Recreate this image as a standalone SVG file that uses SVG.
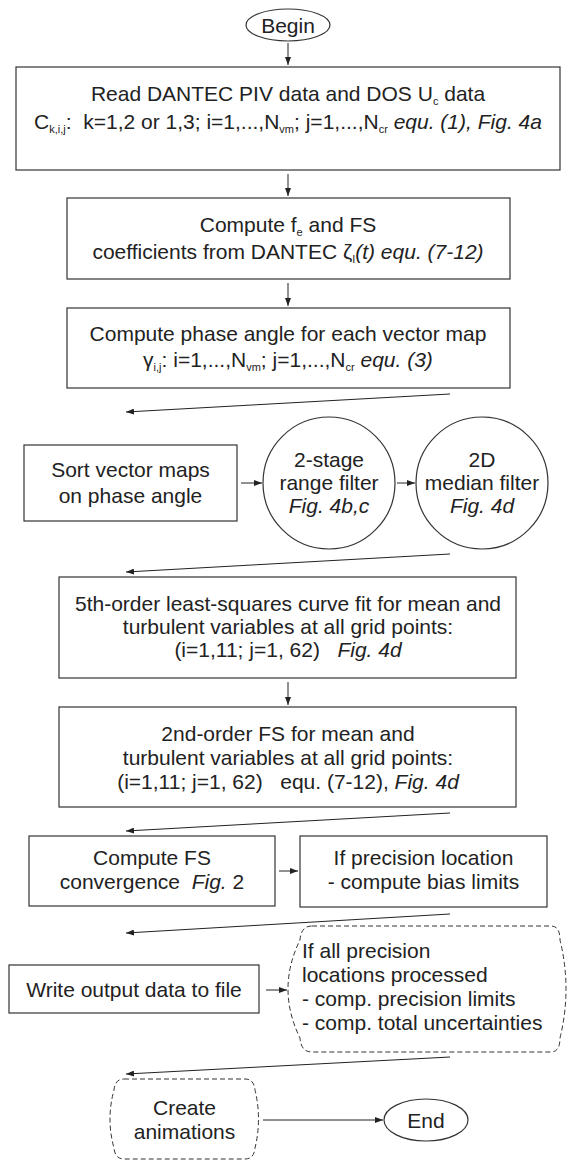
<svg xmlns="http://www.w3.org/2000/svg" width="567" height="1161" viewBox="0 0 567 1161">
<style>
.n{fill:#fff;stroke:#333;stroke-width:1.2}
.d{fill:#fff;stroke:#333;stroke-width:1;stroke-dasharray:5 3}
.c{stroke:#222;stroke-width:1;fill:none;marker-end:url(#ah)}
text{font-family:"Liberation Sans",Arial,sans-serif;font-size:21px;fill:#222;white-space:pre}
.m{text-anchor:middle}
.i{font-style:italic}
.s{font-size:11px}
</style>
<defs>
<marker id="ah" markerUnits="userSpaceOnUse" markerWidth="8" markerHeight="6" refX="8" refY="3" orient="auto">
<path d="M0,0 L8,3 L0,6 Z" fill="#222"/>
</marker>
</defs>
<rect width="567" height="1161" fill="#fff"/>
<g id="connectors">
<line class="c" x1="288" y1="43" x2="288" y2="65"/>
<line class="c" x1="288" y1="174" x2="288" y2="196"/>
<line class="c" x1="288" y1="283" x2="288" y2="306"/>
<line class="c" x1="450" y1="394" x2="126" y2="412"/>
<line class="c" x1="241" y1="483" x2="262" y2="483"/>
<line class="c" x1="397" y1="483" x2="415" y2="483"/>
<line class="c" x1="450" y1="554" x2="126" y2="572"/>
<line class="c" x1="288" y1="682" x2="288" y2="705"/>
<line class="c" x1="450" y1="813" x2="126" y2="831"/>
<line class="c" x1="279" y1="871" x2="298" y2="871"/>
<line class="c" x1="450" y1="914" x2="126" y2="933"/>
<line class="c" x1="266" y1="990" x2="287" y2="990"/>
<line class="c" x1="450" y1="1057" x2="126" y2="1074"/>
<line class="c" x1="263" y1="1120" x2="383" y2="1120"/>
</g>
<g id="begin">
<ellipse class="n" cx="288" cy="25" rx="42" ry="16"/>
<text class="m" x="288" y="32.5">Begin</text>
</g>
<g id="read">
<rect class="n" x="16" y="67" width="544" height="103"/>
<text class="m" x="288" y="101">Read DANTEC PIV data and DOS U<tspan class="s" dy="4">c</tspan><tspan dy="-4"> data</tspan></text>
<text class="m" x="288" y="129">C<tspan class="s" dy="4">k,i,j</tspan><tspan dy="-4">:  k=1,2 or 1,3; i=1,...,N</tspan><tspan class="s" dy="4">vm</tspan><tspan dy="-4">; j=1,...,N</tspan><tspan class="s" dy="4">cr</tspan><tspan dy="-4" class="i"> equ. (1), Fig. 4a</tspan></text>
</g>
<g id="coeff">
<rect class="n" x="67" y="198" width="443" height="81"/>
<text class="m" x="288" y="232">Compute f<tspan class="s" dy="4">e</tspan><tspan dy="-4"> and FS</tspan></text>
<text class="m" x="288" y="259">coefficients from DANTEC ζ<tspan class="s" dy="4">I</tspan><tspan dy="-4" class="i">(t) equ. (7-12)</tspan></text>
</g>
<g id="phase">
<rect class="n" x="67" y="308" width="443" height="80"/>
<text class="m" x="288" y="341">Compute phase angle for each vector map</text>
<text class="m" x="288" y="367">γ<tspan class="s" dy="4">i,j</tspan><tspan dy="-4">: i=1,...,N</tspan><tspan class="s" dy="4">vm</tspan><tspan dy="-4">; j=1,...,N</tspan><tspan class="s" dy="4">cr</tspan><tspan dy="-4" class="i"> equ. (3)</tspan></text>
</g>
<g id="sort">
<rect class="n" x="24" y="445" width="213" height="76"/>
<text class="m" x="130.5" y="477">Sort vector maps</text>
<text class="m" x="130.5" y="503">on phase angle</text>
</g>
<g id="range">
<circle class="n" cx="329" cy="483" r="66"/>
<text class="m" x="329" y="467">2-stage</text>
<text class="m" x="329" y="490">range filter</text>
<text class="m i" x="329" y="513">Fig. 4b,c</text>
</g>
<g id="median">
<circle class="n" cx="482" cy="483" r="66"/>
<text class="m" x="482" y="467">2D</text>
<text class="m" x="482" y="490">median filter</text>
<text class="m i" x="482" y="513">Fig. 4d</text>
</g>
<g id="fit">
<rect class="n" x="59" y="577" width="457" height="101"/>
<text class="m" x="288" y="611">5th-order least-squares curve fit for mean and</text>
<text class="m" x="288" y="634">turbulent variables at all grid points:</text>
<text class="m" x="288" y="657">(i=1,11; j=1, 62)   <tspan class="i">Fig. 4d</tspan></text>
</g>
<g id="fs">
<rect class="n" x="59" y="707" width="457" height="100"/>
<text class="m" x="288" y="741">2nd-order FS for mean and</text>
<text class="m" x="288" y="765">turbulent variables at all grid points:</text>
<text class="m" x="288" y="789">(i=1,11; j=1, 62)   equ. (7-12), <tspan class="i">Fig. 4d</tspan></text>
</g>
<g id="convergence">
<rect class="n" x="29" y="836" width="246" height="70"/>
<text class="m" x="152" y="865">Compute FS</text>
<text class="m" x="152" y="889">convergence  <tspan class="i">Fig.</tspan> 2</text>
</g>
<g id="bias">
<rect class="n" x="300" y="836" width="247" height="71"/>
<text class="m" x="423.5" y="865">If precision location</text>
<text class="m" x="423.5" y="889">- compute bias limits</text>
</g>
<g id="write">
<rect class="n" x="9" y="965" width="250" height="48"/>
<text class="m" x="134" y="997">Write output data to file</text>
</g>
<g id="uncert">
<path class="d" d="M312,926 L551,926 Q560,926 560,940 Q572,989 560,1038 Q560,1052 551,1052 L312,1052 Q301,1052 300,1038 Q276,989 300,940 Q301,926 312,926 Z"/>
<text x="302" y="958">If all precision</text>
<text x="302" y="982">locations processed</text>
<text x="302" y="1006">- comp. precision limits</text>
<text x="302" y="1030">- comp. total uncertainties</text>
</g>
<g id="anim">
<path class="d" d="M124,1079 L245,1079 Q254,1079 255,1090 Q262,1119 255,1148 Q254,1159 245,1159 L124,1159 Q115,1159 114,1148 Q106,1119 114,1090 Q115,1079 124,1079 Z"/>
<text class="m" x="184.5" y="1115">Create</text>
<text class="m" x="184.5" y="1139">animations</text>
</g>
<g id="end">
<ellipse class="n" cx="426" cy="1120" rx="42" ry="21"/>
<text class="m" x="426" y="1128">End</text>
</g>
</svg>
